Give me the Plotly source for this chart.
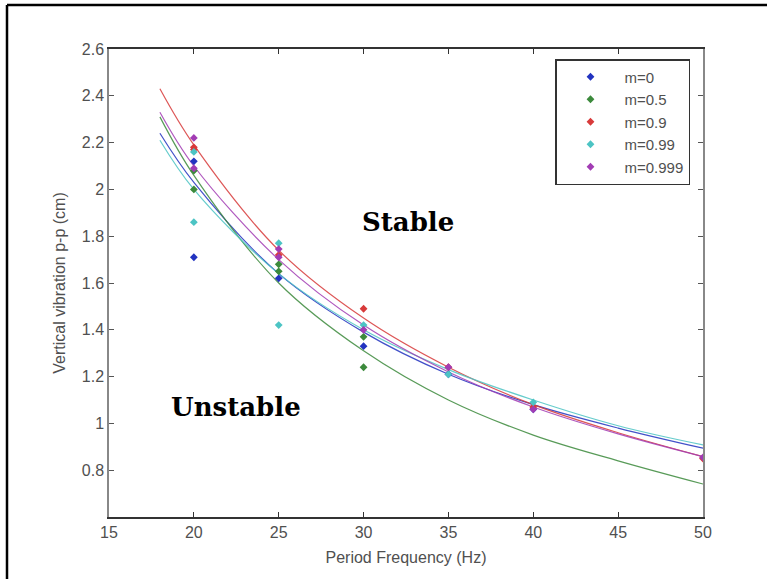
import plotly.graph_objects as go

# ---- data ----
series_names = ["m=0", "m=0.5", "m=0.9", "m=0.99", "m=0.999"]
series_colors = ["#2233c0", "#3c8a3c", "#d83a3a", "#4cc4c4", "#a23cb4"]

# measured points (frequency Hz, vertical vibration cm)
pts_x_m0 = [20, 20, 25, 30, 35, 40]
pts_y_m0 = [2.12, 1.71, 1.62, 1.33, 1.21, 1.06]
pts_x_m05 = [20, 20, 25, 25, 30, 30]
pts_y_m05 = [2.08, 2.00, 1.68, 1.65, 1.37, 1.24]
pts_x_m09 = [20, 20, 25, 30, 35, 40, 50]
pts_y_m09 = [2.18, 2.17, 1.72, 1.49, 1.24, 1.07, 0.85]
pts_x_m099 = [20, 20, 25, 25, 30, 35, 40]
pts_y_m099 = [2.16, 1.86, 1.77, 1.42, 1.42, 1.21, 1.09]
pts_x_m0999 = [20, 20, 25, 25, 30, 35, 40, 50]
pts_y_m0999 = [2.22, 2.09, 1.745, 1.71, 1.40, 1.24, 1.06, 0.855]

# fitted curves
fit_x = [18, 20, 25, 30, 35, 40, 45, 50]
fit_m0 = [2.24, 2.03, 1.64, 1.39, 1.21, 1.08, 0.98, 0.894]
fit_m05 = [2.31, 2.06, 1.60, 1.31, 1.10, 0.95, 0.84, 0.741]
fit_m09 = [2.43, 2.19, 1.74, 1.45, 1.24, 1.08, 0.96, 0.858]
fit_m099 = [2.21, 2.00, 1.64, 1.40, 1.23, 1.10, 0.99, 0.908]
fit_m0999 = [2.33, 2.10, 1.70, 1.42, 1.22, 1.07, 0.955, 0.858]

x_ticks = [15, 20, 25, 30, 35, 40, 45, 50]
y_ticks = [0.8, 1, 1.2, 1.4, 1.6, 1.8, 2, 2.2, 2.4, 2.6]
y_tick_text = ["0.8", "1", "1.2", "1.4", "1.6", "1.8", "2", "2.2", "2.4", "2.6"]

pts_x = [pts_x_m0, pts_x_m05, pts_x_m09, pts_x_m099, pts_x_m0999]
pts_y = [pts_y_m0, pts_y_m05, pts_y_m09, pts_y_m099, pts_y_m0999]
fits = [fit_m0, fit_m05, fit_m09, fit_m099, fit_m0999]

fig = go.Figure()
for name, col, fy in zip(series_names, series_colors, fits):
    fig.add_trace(go.Scatter(x=fit_x, y=fy, mode="lines", line=dict(color=col, width=1.2, shape="spline"),
                             opacity=0.85, showlegend=False, hoverinfo="skip"))
for name, col, px, py in zip(series_names, series_colors, pts_x, pts_y):
    fig.add_trace(go.Scatter(x=px, y=py, mode="markers", name=name,
                             marker=dict(symbol="diamond", size=6, color=col)))

W, H = 767, 579
L, R, T, B = 109, 64, 49, 62
pw, ph = W - L - R, H - T - B

def px2paper_x(p):
    return (p - L) / pw

def px2paper_y(p):
    return (H - B - p) / ph

fig.add_annotation(x=32.6, y=1.86, text="<b>Stable</b>", showarrow=False,
                   font=dict(family="DejaVu Serif", size=26, color="black"))
fig.add_annotation(x=22.5, y=1.07, text="<b>Unstable</b>", showarrow=False,
                   font=dict(family="DejaVu Serif", size=26, color="black"))

# outer frame (left and top edges visible)
fig.add_shape(type="line", xref="paper", yref="paper",
              x0=px2paper_x(7), x1=px2paper_x(7), y0=px2paper_y(590), y1=px2paper_y(5),
              line=dict(color="black", width=2.5))
fig.add_shape(type="line", xref="paper", yref="paper",
              x0=px2paper_x(7), x1=px2paper_x(780), y0=px2paper_y(5), y1=px2paper_y(5),
              line=dict(color="black", width=2.5))

axis_font = dict(family="Liberation Sans, Arial", size=16, color="#505050")
fig.update_layout(
    width=W, height=H, margin=dict(l=L, r=R, t=T, b=B, autoexpand=False),
    paper_bgcolor="white", plot_bgcolor="white",
    font=axis_font,
    xaxis=dict(range=[15, 50], tickvals=x_ticks, ticks="inside", ticklen=5, tickcolor="#333",
               showline=True, linecolor="#333", linewidth=1.5, mirror="ticks", showgrid=False,
               zeroline=False, tickfont=axis_font,
               title=dict(text="Period Frequency (Hz)", font=axis_font, standoff=12)),
    yaxis=dict(range=[0.6, 2.6], tickvals=y_ticks, ticktext=y_tick_text, ticks="inside", ticklen=5,
               tickcolor="#555", showline=True, linecolor="#888", linewidth=1.5, mirror="ticks",
               showgrid=False, zeroline=False, tickfont=axis_font,
               title=dict(text="Vertical vibration p-p (cm)", font=axis_font, standoff=12)),
    legend=dict(x=px2paper_x(555), y=px2paper_y(59), xanchor="left", yanchor="top",
                bgcolor="white", bordercolor="#333", borderwidth=1.5,
                font=dict(family="Liberation Sans, Arial", size=15, color="#505050"),
                itemwidth=58),
    showlegend=True,
)

fig.write_html("out.html", config={"displayModeBar": False},
               post_script="document.body.style.margin='0';")
